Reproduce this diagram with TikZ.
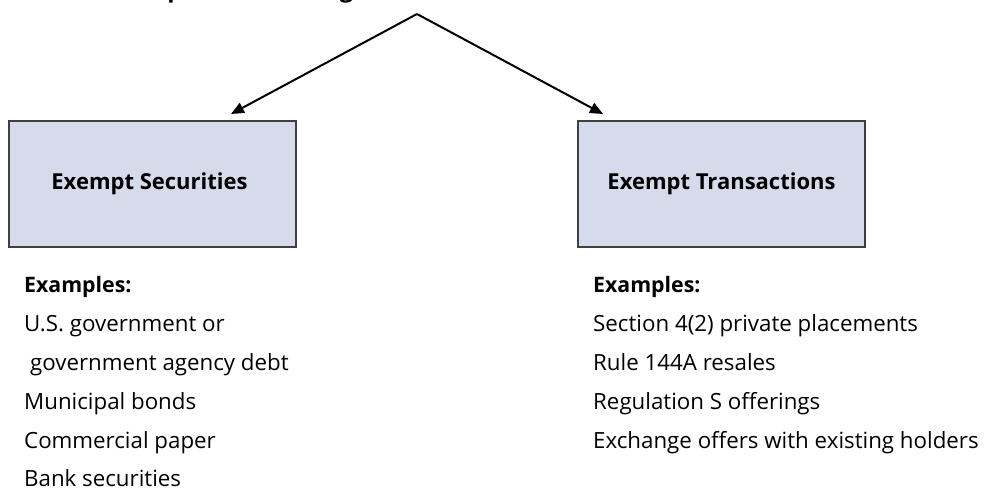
\documentclass[tikz,border=0pt]{standalone}
\usepackage{fontspec}
\setmainfont{Open Sans}
\usetikzlibrary{arrows.meta}
\definecolor{boxfill}{HTML}{D6DBEC}
\definecolor{boxline}{HTML}{404040}
\begin{document}
\begin{tikzpicture}[x=1pt,y=-1pt,
  catbox/.style={draw=boxline, fill=boxfill, line width=1.2pt,
    minimum width=287pt, minimum height=126pt, inner sep=0pt,
    font=\fontsize{22}{26}\selectfont\bfseries},
  listline/.style={anchor=base west, inner sep=0pt,
    font=\fontsize{22.3}{26}\selectfont},
  listhead/.style={listline, font=\fontsize{21.3}{26}\selectfont\bfseries},
  link/.style={line width=2pt, -{Triangle[length=13pt,width=11pt]}}]
\useasboundingbox (0,0) rectangle (984,489);
\begin{scope}
\clip (0,0) rectangle (984,489);
\node[anchor=base west, inner sep=0pt, font=\fontsize{23.5}{27}\selectfont\bfseries]
  (title) at (104,-2) {Exemptions from Registration};
\end{scope}
\coordinate (apex) at (417,14);
\node[catbox] (sec) at (152.5,184) {Exempt Securities\hspace*{6pt}};
\node[catbox] (tra) at (721.5,184) {Exempt Transactions};
\coordinate (tipL) at (231,114);
\coordinate (tipR) at (603,114);
\draw[link] (apex) -- (tipL);
\draw[link] (apex) -- (tipR);
% left list
\node[listhead] (lh) at (24,292) {Examples:};
\node[listline] (l1) at (24,331) {U.S. government or};
\node[listline] (l2) at (30,370) {government agency debt};
\node[listline] (l3) at (24,409) {Municipal bonds};
\node[listline] (l4) at (24,448) {Commercial paper};
\node[listline] (l5) at (24,486) {Bank securities};
% right list
\node[listhead] (rh) at (593,292) {Examples:};
\node[listline] (r1) at (593,331) {Section 4(2) private placements};
\node[listline] (r2) at (593,370) {Rule 144A resales};
\node[listline] (r3) at (593,409) {Regulation S offerings};
\node[listline] (r4) at (593,448) {Exchange offers with existing holders};
\end{tikzpicture}
\end{document}
